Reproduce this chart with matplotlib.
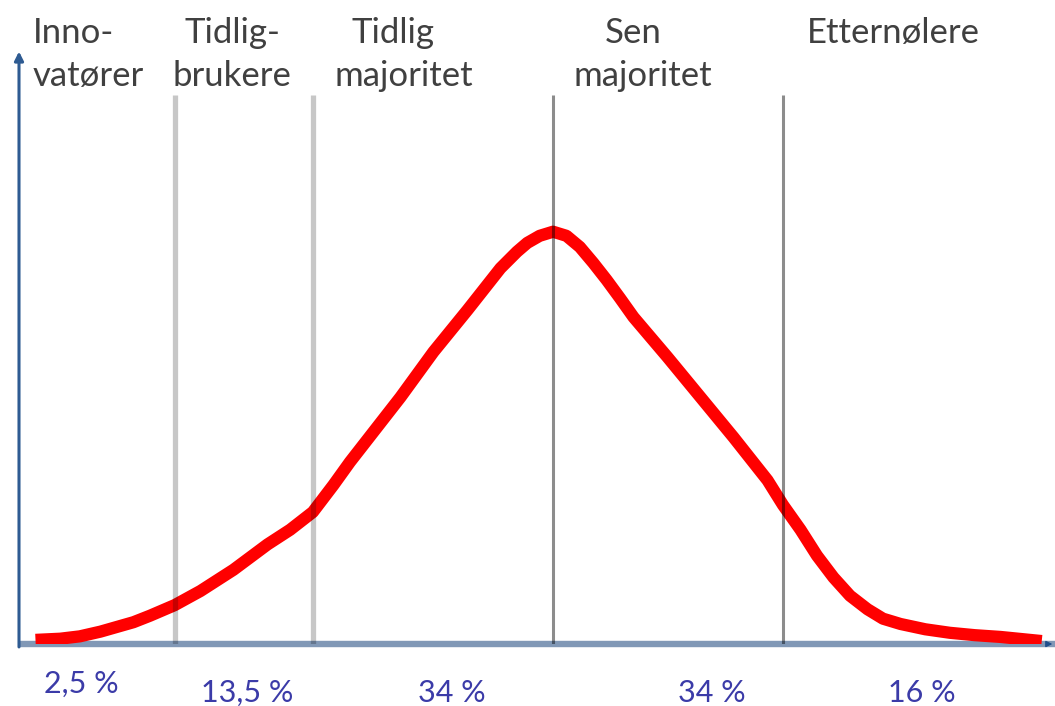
import matplotlib.pyplot as plt

# adoption curve (x: time, 0-100 of axis width; y: share, 0-100 of axis height)
curve_x = [1.6, 4.0, 5.9, 7.9, 11.1, 12.7, 15.1, 17.6, 20.8, 24.1, 26.3, 28.5, 30.5,
           32.1, 37.0, 40.2, 43.5, 46.7, 48.3, 49.3, 50.5, 51.8, 53.1, 54.4, 55.7,
           57.0, 58.3, 59.6, 62.9, 66.1, 69.3, 72.6, 74.1, 75.8, 77.4, 79.0, 80.6,
           82.3, 83.8, 85.5, 87.9, 90.3, 92.7, 95.2, 99.2]
curve_y = [0.7, 0.9, 1.3, 2.1, 3.7, 4.8, 6.6, 9.0, 12.6, 16.9, 19.4, 22.4, 27.0,
           30.9, 41.9, 49.6, 56.7, 63.8, 66.6, 68.1, 69.3, 70.0, 69.3, 67.4, 64.7,
           61.8, 58.7, 55.5, 48.7, 41.9, 35.1, 27.8, 23.6, 19.4, 15.0, 11.3, 8.2,
           5.9, 4.3, 3.4, 2.5, 1.9, 1.5, 1.2, 0.5]

# category boundaries
boundaries = [15.1, 28.5, 51.8, 74.1]
boundary_top = 93.2

top_labels = ["Inno-\nvatører", "Tidlig-\nbrukere", "Tidlig\nmajoritet", "Sen\nmajoritet", "Etternølere"]
shares = ["2,5 %", "13,5 %", "34 %", "34 %", "16 %"]

FONT = ['Lato', 'DejaVu Sans']

fig = plt.figure(figsize=(10.55, 7.06), dpi=100)
ax = fig.add_axes([19 / 1055, 62 / 706, 1031 / 1055, 589 / 706])
ax.set_xlim(0, 100)
ax.set_ylim(0, 100)
ax.axis('off')

# curve
ax.plot(curve_x, curve_y, color='#ff0000', lw=8.8, solid_capstyle='butt',
        solid_joinstyle='round', zorder=2)

# separators (drawn semi-transparent on top, like the original)
ax.vlines(boundaries[:2], 0, boundary_top, colors='black', alpha=0.22, lw=3.8, zorder=3)
ax.vlines(boundaries[2:], 0, boundary_top, colors='black', alpha=0.45, lw=2.2, zorder=3)

# axes with arrows
ax.plot([0, 100.6], [0, 0], color='#8198b6', lw=4.6, solid_capstyle='butt',
        zorder=1, clip_on=False)
ax.annotate('', xy=(100.5, 0), xytext=(99.5, 0), annotation_clip=False,
            arrowprops=dict(arrowstyle='-|>', color='#1f4e8c', lw=1, mutation_scale=9))
ax.annotate('', xy=(0, 100.6), xytext=(0, -0.5), annotation_clip=False,
            arrowprops=dict(arrowstyle='-|>', color='#2e5b92', lw=2.2, mutation_scale=13,
                            shrinkA=0, shrinkB=0), zorder=4)

# category names above the plot
line_x = [(1.3, 1.3), (20.7, 20.7), (36.3, 37.3), (59.6, 60.5), (84.8,)]
line_align = ['left', 'center', 'center', 'center', 'center']
baselines = [102.0, 94.7]
for label, xs, ha in zip(top_labels, line_x, line_align):
    for i, (line, x) in enumerate(zip(label.split('\n'), xs)):
        ax.text(x, baselines[i], line, ha=ha, va='baseline', fontsize=25,
                color='#404040', family=FONT, clip_on=False)

# shares below the axis
share_x = [6.0, 22.1, 42.0, 67.2, 87.6]
share_y = [-8.2, -9.8, -9.8, -9.8, -9.8]
for s, x, y in zip(shares, share_x, share_y):
    ax.text(x, y, s, ha='center', va='baseline', fontsize=22,
            color='#3b3ba8', family=FONT, clip_on=False)

plt.savefig('out.png', dpi=100)
